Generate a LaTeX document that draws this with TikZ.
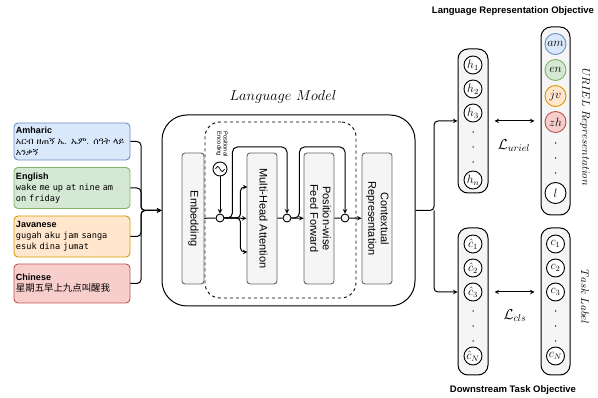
\documentclass[tikz,border=0pt]{standalone}
\usepackage{fontspec}
\setsansfont{Liberation Sans}
\setmonofont{DejaVu Sans Mono}
\newfontfamily\cjkfont{Noto Sans CJK SC}
\IfFontExistsTF{FreeSerif}{\newfontfamily\ethfont{FreeSerif}}{%
  \IfFontExistsTF{Abyssinica SIL}{\newfontfamily\ethfont{Abyssinica SIL}}{\newfontfamily\ethfont{DejaVu Sans}}}
\usetikzlibrary{shapes.geometric, arrows}

\definecolor{amfill}{HTML}{DAE8FC}
\definecolor{amdraw}{HTML}{6C8EBF}
\definecolor{enfill}{HTML}{D5E8D4}
\definecolor{endraw}{HTML}{82B366}
\definecolor{jvfill}{HTML}{FFE6CC}
\definecolor{jvdraw}{HTML}{D79B00}
\definecolor{zhfill}{HTML}{F8CECC}
\definecolor{zhdraw}{HTML}{B85450}
\definecolor{layerfill}{HTML}{F5F5F5}
\definecolor{layerdraw}{HTML}{666666}

\newcommand{\vtext}[1]{\rotatebox{-90}{\begin{tabular}{@{}c@{}}#1\end{tabular}}}
\newcommand{\boxtitle}[1]{{\sffamily\bfseries\fontsize{9}{11}\selectfont #1}}

\tikzstyle{langbox} = [rectangle, rounded corners=4pt, line width=0.9pt, minimum width=116pt, text width=112pt, inner sep=2pt, align=left, font=\ttfamily\fontsize{8.6}{11}\selectfont]
\tikzstyle{model} = [rectangle, rounded corners=25pt, draw=black, line width=1pt, minimum width=253pt, minimum height=191pt]
\tikzstyle{block} = [rectangle, rounded corners=15pt, draw=black, dashed, line width=0.9pt, minimum width=151pt, minimum height=176pt]
\tikzstyle{layer} = [rectangle, rounded corners=3pt, draw=layerdraw, fill=layerfill, line width=0.9pt, minimum width=30pt, minimum height=131pt, inner sep=0pt, font=\sffamily\fontsize{11}{12.5}\selectfont]
\tikzstyle{add} = [circle, draw=black, fill=layerfill, line width=0.9pt, minimum size=8pt, inner sep=0pt]
\tikzstyle{column} = [rectangle, rounded corners=10pt, draw=black, fill=layerfill, line width=1pt, minimum width=30pt]
\tikzstyle{unit} = [circle, draw=black, fill=white, line width=0.9pt, minimum size=18pt, inner sep=0pt, font=\fontsize{12}{14}\selectfont]
\tikzstyle{lang} = [unit, minimum size=21pt]
\tikzstyle{dotmark} = [circle, fill=black, minimum size=1.5pt, inner sep=0pt]
\tikzstyle{heading} = [font=\sffamily\bfseries\fontsize{9.5}{11}\selectfont]
\tikzstyle{arrow} = [line width=1pt,->,>=stealth]

\begin{document}
\begin{tikzpicture}[x=1pt, y=1pt, node distance=24pt]
\useasboundingbox (0,0) rectangle (598,-398);

% input sentences
\node (am) [langbox, draw=amdraw, fill=amfill, minimum height=37pt] at (72,-141.5) {\boxtitle{Amharic}\\{\ethfont\fontsize{9.2}{11}\selectfont አርብ ዘጠኝ ኤ. ኤም. ሰዓት ላይ\\አንቃኝ}};
\node (en) [langbox, draw=endraw, fill=enfill, minimum height=41pt] at (72,-188) {\boxtitle{English}\\wake me up at nine am\\on friday};
\node (jv) [langbox, draw=jvdraw, fill=jvfill, minimum height=41pt] at (72,-236.5) {\boxtitle{Javanese}\\gugah aku jam sanga\\esuk dina jumat};
\node (zh) [langbox, draw=zhdraw, fill=zhfill, minimum height=39pt] at (72,-283.5) {\boxtitle{Chinese}\\{\cjkfont\fontsize{9.4}{11}\selectfont 星期五早上九点叫醒我}};

% language model
\node (lm) [model] at (288.5,-210.5) {};
\node (lmtitle) at (283,-97) {\fontsize{14}{16}\selectfont $Language\ Model$};
\node (blk) [block] at (280.5,-210) {};
\node (emb) [layer, minimum width=22pt] at (193,-218.5) {\vtext{Embedding}};
\node (mha) [layer] at (262,-218.5) {\vtext{Multi-Head Attention}};
\node (pff) [layer] at (319,-218.5) {\vtext{Position-wise\\Feed Forward}};
\node (ctx) [layer] at (377,-218.5) {\vtext{Contextual\\Representation}};

\node (pe) [circle, draw=black, fill=white, line width=0.9pt, minimum size=14pt] at (220,-169) {};
\draw [line width=0.7pt, shift={(pe.center)}] (-4.5,0) sin (-2.25,2.5) cos (0,0) sin (2.25,-2.5) cos (4.5,0);
\node (petext) [rotate=-90, align=center, font=\sffamily\fontsize{5.8}{6.3}\selectfont] at (222,-144) {Positional\\Encoding};

\node (add1) [add] at (220,-218) {};
\node (add2) [add] at (287,-218) {};
\node (add3) [add] at (345,-218) {};

\draw [line width=1pt] (emb) -- (add1);
\draw [arrow] (pe) -- (add1);
\draw [arrow] (add1) -- (mha);
\draw [arrow, rounded corners=4pt] (add1.east) -| ++(16,31) -- ++(7,0);
\draw [arrow, rounded corners=4pt] (add1.east) -| ++(16,-34) -- ++(7,0);
\draw [arrow, rounded corners=5pt] (add1.east) -| ++(8,71) -| (add2.north);
\draw [line width=1pt] (mha) -- (add2);
\draw [arrow] (add2) -- (pff);
\draw [arrow, rounded corners=5pt] (add2.east) -| ++(8,71) -| (add3.north);
\draw [line width=1pt] (pff) -- (add3);
\draw [arrow] (add3) -- (ctx);

% sentences into the model
\coordinate (join) at (141,-210.5);
\draw [arrow, rounded corners=4pt] (am.east) -| (join) -- (lm.west);
\draw [arrow, rounded corners=4pt] (en.east) -| (join) -- (lm.west);
\draw [arrow, rounded corners=4pt] (jv.east) -| (join) -- (lm.west);
\draw [arrow, rounded corners=4pt] (zh.east) -| (join) -- (lm.west);

% language representation objective
\node (objtop) [heading] at (513,-11) {Language Representation Objective};
\node (hcol) [column, minimum height=144pt] at (473,-121) {};
\node (ucol) [column, minimum width=29pt, minimum height=188pt] at (555.5,-121) {};
\node (h1) [unit] at (473,-65) {$h_1$};
\node (h2) [unit, below of=h1] {$h_2$};
\node (h3) [unit, below of=h2] {$h_3$};
\node (hd1) [dotmark] at (473,-132) {};
\node (hd2) [dotmark] at (473,-147) {};
\node (hd3) [dotmark] at (473,-162) {};
\node (hn) [unit] at (473,-180) {$h_n$};

\node (uam) [lang, draw=amdraw, fill=amfill] at (555.5,-44) {$am$};
\node (uen) [lang, draw=endraw, fill=enfill, below of=uam, node distance=26pt] {$en$};
\node (ujv) [lang, draw=jvdraw, fill=jvfill, below of=uen, node distance=26pt] {$jv$};
\node (uzh) [lang, draw=zhdraw, fill=zhfill, below of=ujv, node distance=26pt] {$zh$};
\node (ud1) [dotmark] at (555.5,-143) {};
\node (ud2) [dotmark] at (555.5,-158) {};
\node (ud3) [dotmark] at (555.5,-173) {};
\node (ul) [lang] at (555.5,-193) {$l$};
\node (urieltext) [rotate=-90, font=\fontsize{10.5}{12}\selectfont] at (585,-127) {$URIEL\ Representation$};

\draw [line width=1pt, <->, >=stealth, shorten <=6pt, shorten >=6pt] (hcol) -- (ucol);
\node (luriel) [font=\fontsize{14}{16}\selectfont] at (514,-146) {$\mathcal{L}_{uriel}$};

% downstream task objective
\node (chcol) [column, minimum height=147pt] at (473,-301.5) {};
\node (ccol) [column, minimum width=29pt, minimum height=147pt] at (555.5,-301.5) {};
\node (ch1) [unit] at (473,-244) {$\hat{c}_1$};
\node (ch2) [unit, below of=ch1] {$\hat{c}_2$};
\node (ch3) [unit, below of=ch2] {$\hat{c}_3$};
\node (chd1) [dotmark] at (473,-311) {};
\node (chd2) [dotmark] at (473,-326) {};
\node (chd3) [dotmark] at (473,-341) {};
\node (chN) [unit] at (473,-356) {$\hat{c}_N$};

\node (c1) [unit] at (555.5,-244) {$c_1$};
\node (c2) [unit, below of=c1] {$c_2$};
\node (c3) [unit, below of=c2] {$c_3$};
\node (cd1) [dotmark] at (555.5,-311) {};
\node (cd2) [dotmark] at (555.5,-326) {};
\node (cd3) [dotmark] at (555.5,-341) {};
\node (cN) [unit] at (555.5,-356) {$c_N$};
\node (tasktext) [rotate=-90, font=\fontsize{10.5}{12}\selectfont] at (585,-297) {$Task\ Label$};

\draw [line width=1pt, <->, >=stealth, shorten <=6pt, shorten >=6pt] (chcol.east |- ch3) -- (ccol.west |- ch3);
\node (lcls) [font=\fontsize{14}{16}\selectfont] at (515,-316) {$\mathcal{L}_{cls}$};
\node (objbot) [heading] at (513,-390) {Downstream Task Objective};

% model output to both objectives
\coordinate (split) at (434,-210.5);
\draw [arrow, rounded corners=4pt] (lm.east) -- (split) |- (hcol.west);
\draw [arrow, rounded corners=4pt] (split) |- (chcol.west |- ch3);

\end{tikzpicture}
\end{document}
